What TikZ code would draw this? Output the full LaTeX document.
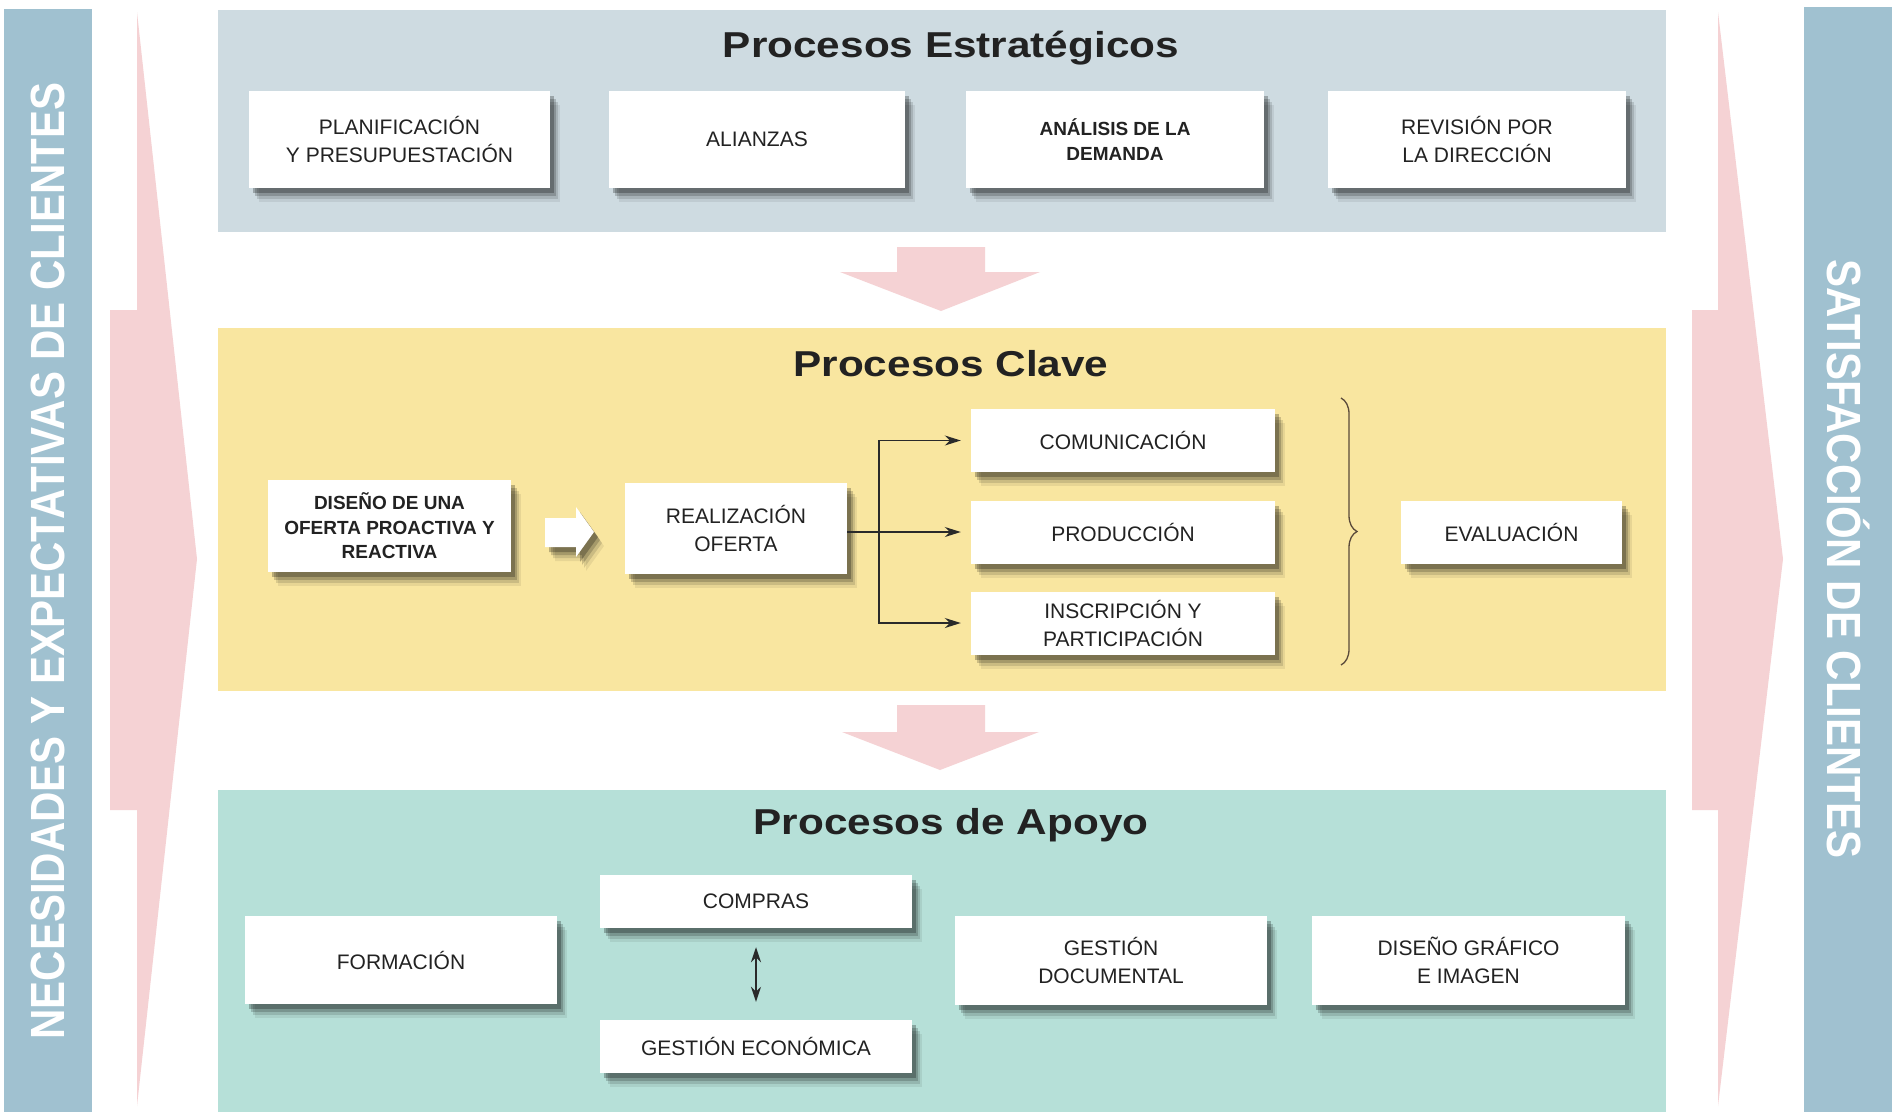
\documentclass[tikz,border=0pt]{standalone}
\usepackage{fontspec}
\setmainfont{Liberation Sans}
\usetikzlibrary{arrows.meta,shadows,decorations.pathreplacing}
\definecolor{barblue}{HTML}{A0C1D0}
\definecolor{panelgrey}{HTML}{CEDBE1}
\definecolor{panelyellow}{HTML}{F9E6A0}
\definecolor{panelteal}{HTML}{B6E0D8}
\definecolor{pinkarrow}{HTML}{F5D2D4}
\definecolor{textc}{HTML}{222222}
\definecolor{linec}{HTML}{2A2A2A}
\definecolor{bracec}{HTML}{5A4A3A}
\begin{document}
\begin{tikzpicture}[x=1pt,y=-1pt,
  boxshadow/.style={
    general shadow={shadow xshift=10pt,shadow yshift=-14pt,fill=black,opacity=0.07},
    general shadow={shadow xshift=8pt,shadow yshift=-11pt,fill=black,opacity=0.12},
    general shadow={shadow xshift=6pt,shadow yshift=-8pt,fill=black,opacity=0.18},
    general shadow={shadow xshift=4pt,shadow yshift=-5pt,fill=black,opacity=0.25}},
  box/.style={fill=white,draw=none,align=center,inner sep=0pt,text=textc,
    font=\fontsize{21}{28}\selectfont,boxshadow},
  boldbox/.style={box,font=\fontsize{19}{24.5}\selectfont\bfseries},
  paneltitle/.style={anchor=base,inner sep=0pt,text=textc,font=\fontsize{36}{40}\selectfont\bfseries},
  sidetext/.style={inner sep=0pt,text=white,font=\fontsize{48}{48}\selectfont\bfseries},
  conn/.style={draw=linec,line width=1.8pt,-{Stealth[length=16pt,width=10pt]},shorten >=10pt},
  dblarrow/.style={draw=linec,line width=1.8pt,{Stealth[length=15pt,width=10pt]}-{Stealth[length=15pt,width=10pt]}},
  pinkshape/.style={fill=pinkarrow,draw=none}
]
\useasboundingbox (0,0) rectangle (1898,1112);
\fill[white] (0,0) rectangle (1898,1112);

% side bars
\fill[barblue] (4,9) rectangle (92,1112);
\fill[barblue] (1804,7) rectangle (1892,1112);
\node[sidetext,rotate=90] (needs) at (48,561) {\scalebox{0.875}[1]{NECESIDADES Y EXPECTATIVAS DE CLIENTES}};
\node[sidetext,rotate=-90] (satis) at (1849,559) {\scalebox{0.875}[1]{SATISFACCIÓN DE CLIENTES}};

% big pink arrows
\fill[pinkshape] (110,310) -- (137,310) -- (137,12) -- (197,559) -- (137,1106) -- (137,810) -- (110,810) -- cycle;
\fill[pinkshape] (1692,310) -- (1718,310) -- (1718,12) -- (1783,559) -- (1718,1106) -- (1718,810) -- (1692,810) -- cycle;

% panels
\fill[panelgrey] (218,10) rectangle (1666,232);
\fill[panelyellow] (218,328) rectangle (1666,691);
\fill[panelteal] (218,790) rectangle (1666,1112);

% down arrows
\fill[pinkshape] (897,247) -- (985,247) -- (985,272) -- (1040,272) -- (941,311) -- (840,272) -- (897,272) -- cycle;
\fill[pinkshape] (897,705) -- (985,705) -- (985,732) -- (1039,732) -- (940,770) -- (842,732) -- (897,732) -- cycle;

% titles
\node[paneltitle] (t1) at (951,57) {\scalebox{1.175}[1]{Procesos Estratégicos}};
\node[paneltitle] (t2) at (951,376) {\scalebox{1.175}[1]{Procesos Clave}};
\node[paneltitle] (t3) at (951,834) {\scalebox{1.175}[1]{Procesos de Apoyo}};

% strategic boxes
\node[box,minimum width=301pt,minimum height=97pt] (plan) at (399.5,139.5) {PLANIFICACIÓN\\Y PRESUPUESTACIÓN};
\node[box,minimum width=296pt,minimum height=97pt] (ali) at (757,139.5) {ALIANZAS};
\node[boldbox,minimum width=298pt,minimum height=97pt] (ana) at (1115,139.5) {ANÁLISIS DE LA\\DEMANDA};
\node[box,minimum width=298pt,minimum height=97pt] (rev) at (1477,139.5) {REVISIÓN POR\\LA DIRECCIÓN};

% key process boxes
\node[boldbox,minimum width=243pt,minimum height=92pt] (dis) at (389.5,526) {DISEÑO DE UNA\\OFERTA PROACTIVA Y\\REACTIVA};
\fill[white,boxshadow] (545,518) -- (576,518) -- (576,507) -- (594,532) -- (576,557) -- (576,547) -- (545,547) -- cycle;
\node[box,minimum width=222pt,minimum height=91pt] (real) at (736,528) {REALIZACIÓN\\OFERTA};
\node[box,minimum width=304pt,minimum height=63pt] (com) at (1123,440.5) {COMUNICACIÓN};
\node[box,minimum width=304pt,minimum height=63pt] (prod) at (1123,532) {PRODUCCIÓN};
\node[box,minimum width=304pt,minimum height=63pt] (ins) at (1123,623) {INSCRIPCIÓN Y\\PARTICIPACIÓN};
\node[box,minimum width=221pt,minimum height=63pt] (eva) at (1511.5,532.5) {EVALUACIÓN};

\coordinate (br) at (879,532);
\draw[conn] (real.east |- prod.west) -- (prod.west);
\draw[conn] (br) |- (com.west);
\draw[conn] (br) |- (ins.west);
\draw[bracec,line width=1.3pt,decorate,decoration={brace,amplitude=16pt,aspect=0.5}] (1341,398) -- (1341,665);

% support boxes
\node[box,minimum width=312pt,minimum height=88pt] (form) at (401,960) {FORMACIÓN};
\node[box,minimum width=312pt,minimum height=53pt] (comp) at (756,901.5) {COMPRAS};
\node[box,minimum width=312pt,minimum height=53pt] (gecon) at (756,1046.5) {GESTIÓN ECONÓMICA};
\node[box,minimum width=312pt,minimum height=89pt] (gdoc) at (1111,960.5) {GESTIÓN\\DOCUMENTAL};
\node[box,minimum width=313pt,minimum height=89pt] (dgraf) at (1468.5,960.5) {DISEÑO GRÁFICO\\E IMAGEN};
\draw[dblarrow,shorten <=19pt,shorten >=18pt] (comp.south) -- (gecon.north);
\end{tikzpicture}
\end{document}
